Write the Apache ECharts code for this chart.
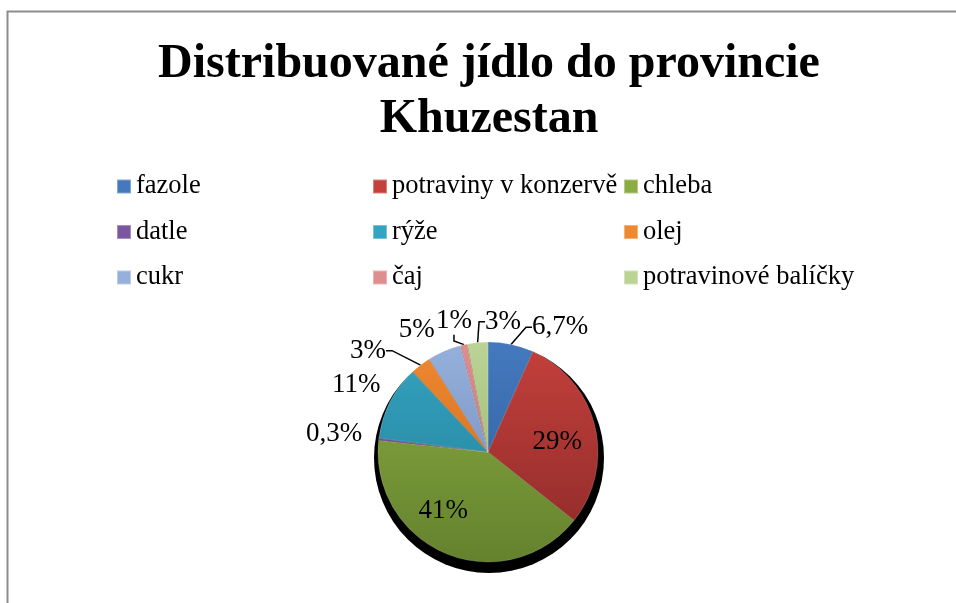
<!DOCTYPE html>
<html>
<head>
<meta charset="utf-8">
<script src="https://cdn.jsdelivr.net/npm/echarts@6/dist/echarts.min.js"></script>
<style>
  html, body { margin: 0; padding: 0; background: #fff; }
  #chart { width: 956px; height: 603px; }
</style>
</head>
<body>
<div id="chart"></div>
<script>
const titleText = 'Distribuované jídlo do provincie\nKhuzestan';
const categories = ['fazole', 'potraviny v konzervě', 'chleba', 'datle', 'rýže', 'olej', 'cukr', 'čaj', 'potravinové balíčky'];
const values = [6.7, 29, 41, 0.3, 11, 3, 5, 1, 3];
const labels = ['6,7%', '29%', '41%', '0,3%', '11%', '3%', '5%', '1%', '3%'];
const topColors = ['#4479BE', '#C4403C', '#8AAC43', '#7A55A0', '#33A4C1', '#F08830', '#96B0DC', '#DE8E8D', '#BBD495'];
const bottomColors = ['#2D5C96', '#8C2A28', '#64822D', '#553A75', '#257C94', '#C3681D', '#6D87B6', '#B76968', '#91AC6C'];
const legendCols = [
  ['fazole', 'datle', 'cukr'],
  ['potraviny v konzervě', 'rýže', 'čaj'],
  ['chleba', 'olej', 'potravinové balíčky']
];

const font = '"Liberation Serif", "Times New Roman", serif';
const cx = 488, cy = 452, r = 110;

// label placement: polar offset (degrees from slice middle, distance from centre)
const labelPlace = [
  [18, 144], [5, 70], [15, 74], [0, 155], [0, 148],
  [-12, 157], [-7, 141], [-2, 135], [12, 131]
];
const withLine = [0, 5, 7, 8];

const chart = echarts.init(document.getElementById('chart'));

const grad = (i) => new echarts.graphic.LinearGradient(0, cy - r, 0, cy + r, [
  { offset: 0, color: topColors[i] },
  { offset: 1, color: bottomColors[i] }
], true);

const total = values.reduce((a, b) => a + b, 0);
const midAngles = [];
let acc = 0;
values.forEach(v => { midAngles.push((acc + v / 2) / total * 360); acc += v; });

const pieData = categories.map((name, i) => ({
  name,
  value: values[i],
  itemStyle: { color: grad(i) },
  labelLine: { show: withLine.includes(i) }
}));

const legendX = [111, 367, 618];
const legends = legendCols.map((col, k) => ({
  orient: 'vertical',
  left: legendX[k],
  top: 168,
  itemWidth: 14,
  itemHeight: 14,
  itemGap: 18.5,
  icon: 'rect',
  data: col.map(n => ({ name: n, itemStyle: { color: topColors[categories.indexOf(n)] } })),
  textStyle: { fontFamily: font, fontSize: 26.5, lineHeight: 27, color: '#000', padding: [0, 0, 0, 0] },
  selectedMode: false
}));

chart.setOption({
  animation: false,
  backgroundColor: '#fff',
  legend: legends,
  graphic: [{
    type: 'rect',
    shape: { x: 7.5, y: 11.5, width: 1000, height: 700 },
    style: { fill: 'none', stroke: '#8c8c8c', lineWidth: 2 },
    silent: true
  }, {
    type: 'text',
    x: 489,
    y: 37,
    silent: true,
    style: {
      text: titleText,
      fill: '#000',
      font: 'bold 48px ' + font,
      lineHeight: 55,
      align: 'center',
      verticalAlign: 'top'
    }
  }],
  series: [
    {
      type: 'pie',
      silent: true,
      center: [cx + 1, cy + 6],
      radius: r + 5,
      z: 1,
      label: { show: false },
      labelLine: { show: false },
      itemStyle: { color: '#000' },
      data: [{ name: '', value: 1 }],
      legendHoverLink: false
    },
    {
      type: 'pie',
      center: [cx, cy],
      radius: r,
      startAngle: 90,
      clockwise: true,
      z: 2,
      avoidLabelOverlap: false,
      itemStyle: { borderColor: 'rgba(255,255,255,0.35)', borderWidth: 0.5 },
      label: {
        position: 'outside',
        fontFamily: font,
        fontSize: 27,
        color: '#000',
        formatter: (p) => labels[p.dataIndex]
      },
      labelLine: {
        length: 6,
        length2: 6,
        lineStyle: { color: '#000', width: 1.5 }
      },
      labelLayout: (p) => {
        const i = p.dataIndex;
        const a = (midAngles[i] + labelPlace[i][0]) * Math.PI / 180;
        const d = labelPlace[i][1];
        return {
          x: cx + d * Math.sin(a),
          y: cy - d * Math.cos(a),
          align: 'center',
          verticalAlign: 'middle'
        };
      },
      data: pieData
    }
  ]
});
</script>
</body>
</html>
